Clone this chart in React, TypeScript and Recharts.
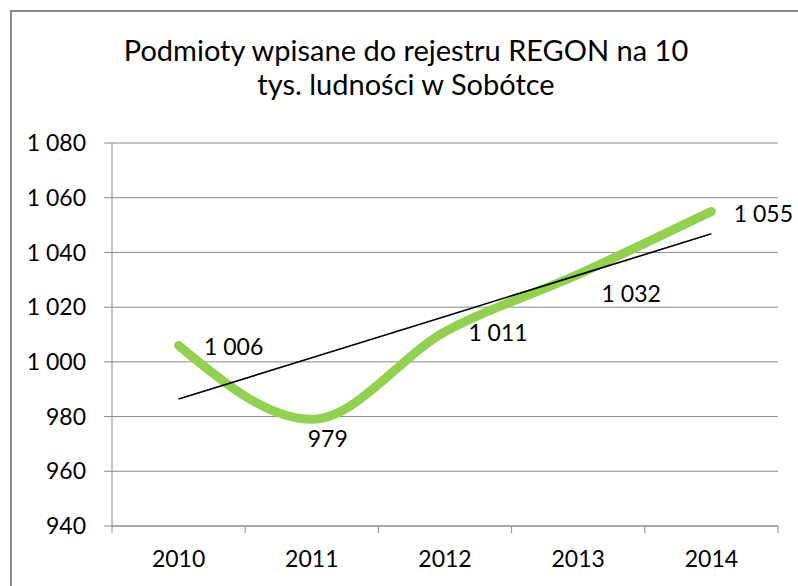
import React from "react";
import { LineChart, Line, XAxis, YAxis, CartesianGrid } from "recharts";

const years = ["2010", "2011", "2012", "2013", "2014"];
const regonValues = [1006, 979, 1011, 1032, 1055];
const yTicks = [940, 960, 980, 1000, 1020, 1040, 1060, 1080];
const titleLines = ["Podmioty wpisane do rejestru REGON na 10", "tys. ludności w Sobótce"];

// label placement relative to each point (centre of text)
const labelOffsets = [
  { dx: 55, dy: 1 },
  { dx: 16, dy: 19 },
  { dx: 53, dy: 0 },
  { dx: 53, dy: 19 },
  { dx: 52, dy: 2 },
];

// linear trend (least squares) over the series
function linearTrend(values: number[]): number[] {
  const n = values.length;
  const mx = (n - 1) / 2;
  const my = values.reduce((a, b) => a + b, 0) / n;
  let num = 0;
  let den = 0;
  values.forEach((v, i) => {
    num += (i - mx) * (v - my);
    den += (i - mx) * (i - mx);
  });
  const slope = num / den;
  return values.map((_, i) => my + slope * (i - mx));
}

const trendValues = linearTrend(regonValues);

const chartData = years.map((year, i) => ({
  year,
  value: regonValues[i],
  trend: trendValues[i],
}));

function formatNum(n: number): string {
  return String(Math.round(n)).replace(/\B(?=(\d{3})+(?!\d))/g, " ");
}

const FONT = "Lato, 'Open Sans', sans-serif";
const GRID = "#8a8a8a";
const PLOT_LEFT = 112;
const PLOT_RIGHT = 778;
const BAND = (PLOT_RIGHT - PLOT_LEFT) / years.length;

function XTick(props: any) {
  const { x, y, payload, index } = props;
  return (
    <g>
      <line x1={x - BAND / 2} x2={x - BAND / 2} y1={y} y2={y + 7} stroke={GRID} strokeWidth={1} />
      {index === years.length - 1 && (
        <line x1={x + BAND / 2} x2={x + BAND / 2} y1={y} y2={y + 7} stroke={GRID} strokeWidth={1} />
      )}
      <text x={x} y={y + 41} textAnchor="middle" fontFamily={FONT} fontSize={23} fill="#000">
        {payload.value}
      </text>
    </g>
  );
}

function PointLabel(props: any) {
  const { x, y, index, value } = props;
  const off = labelOffsets[index] || { dx: 0, dy: 0 };
  return (
    <text
      x={x + off.dx}
      y={y + off.dy}
      textAnchor="middle"
      dominantBaseline="central"
      fontFamily={FONT}
      fontSize={23}
      fill="#000"
    >
      {formatNum(value)}
    </text>
  );
}

export default function App() {
  return (
    <div
      style={{
        position: "fixed",
        left: 0,
        top: 0,
        width: 798,
        height: 586,
        overflow: "hidden",
        background: "#fff",
      }}
    >
      <div
        style={{
          position: "absolute",
          left: 10,
          top: 10,
          width: 900,
          height: 700,
          border: `2px solid ${GRID}`,
        }}
      />
      <svg width={798} height={120} style={{ position: "absolute", left: 0, top: 0 }}>
        {titleLines.map((t, i) => (
          <text
            key={i}
            x={406}
            y={61 + i * 34}
            textAnchor="middle"
            fontFamily={FONT}
            fontSize={29}
            fill="#000"
          >
            {t}
          </text>
        ))}
      </svg>
      <div style={{ position: "absolute", left: 0, top: 0 }}>
        <LineChart
          width={798}
          height={586}
          data={chartData}
          margin={{ top: 143, right: 20, bottom: 20, left: 12 }}
        >
          <CartesianGrid vertical={false} stroke={GRID} strokeWidth={1} />
          <XAxis
            dataKey="year"
            padding={{ left: BAND / 2, right: BAND / 2 }}
            axisLine={{ stroke: GRID, strokeWidth: 1 }}
            tickLine={false}
            tickSize={0}
            tickMargin={0}
            height={40}
            tick={<XTick />}
            interval={0}
          />
          <YAxis
            domain={[940, 1080]}
            ticks={yTicks}
            width={100}
            axisLine={{ stroke: GRID, strokeWidth: 1 }}
            tickLine={{ stroke: GRID, strokeWidth: 1 }}
            tickSize={8}
            tickMargin={18}
            tickFormatter={formatNum}
            tick={{ fontFamily: FONT, fontSize: 23, fill: "#000" }}
            interval={0}
          />
          <Line
            type="monotone"
            dataKey="value"
            stroke="#92D050"
            strokeWidth={9}
            strokeLinecap="round"
            dot={false}
            activeDot={false}
            label={<PointLabel />}
            isAnimationActive={false}
          />
          <Line
            type="linear"
            dataKey="trend"
            stroke="#000"
            strokeWidth={1.6}
            dot={false}
            activeDot={false}
            isAnimationActive={false}
          />
        </LineChart>
      </div>
    </div>
  );
}
